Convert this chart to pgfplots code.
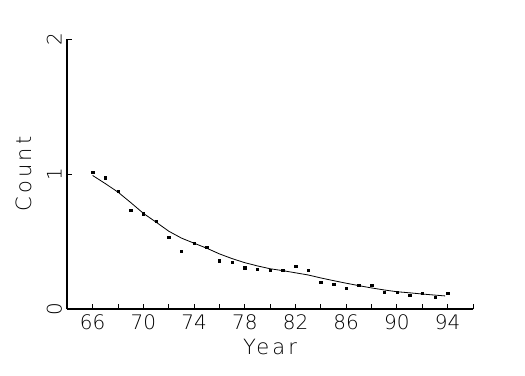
\documentclass[border=0pt]{standalone}
\usepackage{fontspec}
\setmainfont{DejaVu Sans ExtraLight}
\newfontfamily\labelfont[LetterSpace=15]{DejaVu Sans ExtraLight}
\usepackage{pgfplots}
\pgfplotsset{compat=1.18}
\begin{document}
\begin{tikzpicture}[x=1pt,y=1pt]
\path[use as bounding box] (0,0) rectangle (525,375);
\begin{axis}[
  at={(67.3pt,65.7pt)}, anchor=south west,
  scale only axis, width=405.7pt, height=270.3pt,
  xmin=64, xmax=96, ymin=0, ymax=2,
  axis lines=left, axis line style={-, line width=2pt, black},
  xtick={64,66,...,96},
  xticklabels={,66,,70,,74,,78,,82,,86,,90,,94,},
  ytick={0,1,2}, yticklabels={0,1,2},
  tick align=inside, major tick length=5pt,
  tick style={line width=1pt, black},
  /pgf/number format/assume math mode=true,
  every tick label/.append style={font=\fontsize{20}{23}\selectfont},
  xticklabel style={anchor=center, yshift=-12.5pt},
  yticklabel style={xshift=-13pt, anchor=center, rotate=90},
  xlabel={Year}, ylabel={Count},
  label style={font=\labelfont\fontsize{21}{24}\selectfont},
  xlabel style={at={(axis description cs:0.5,-0.1387)}, anchor=center},
  ylabel style={at={(axis description cs:-0.1067,0.5)}, anchor=center},
  clip=false,
]
\addplot[only marks, mark=square*, mark size=1.2pt, black] coordinates {
(66,1.015) (67,0.975) (68,0.874) (69,0.733) (70,0.706) (71,0.652) (72,0.533)
(73,0.432) (74,0.489) (75,0.459) (76,0.360) (77,0.350) (78,0.308) (79,0.296)
(80,0.289) (81,0.289) (82,0.319) (83,0.289) (84,0.200) (85,0.187) (86,0.156)
(87,0.180) (88,0.180) (89,0.126) (90,0.126) (91,0.106) (92,0.119) (93,0.089)
(94,0.119)
};
\addplot[black, line width=0.8pt] coordinates {
(66,0.99) (67,0.93) (68,0.867) (69,0.79) (70,0.71) (71,0.645) (72,0.578)
(73,0.527) (74,0.489) (75,0.452) (76,0.410) (77,0.375) (78,0.345) (79,0.321)
(80,0.30) (81,0.286) (82,0.27) (83,0.254) (84,0.232) (85,0.212) (86,0.193)
(87,0.175) (88,0.158) (89,0.143) (90,0.13) (91,0.122) (92,0.113) (93,0.105)
(93.8,0.099)
};
\end{axis}
\end{tikzpicture}
\end{document}
